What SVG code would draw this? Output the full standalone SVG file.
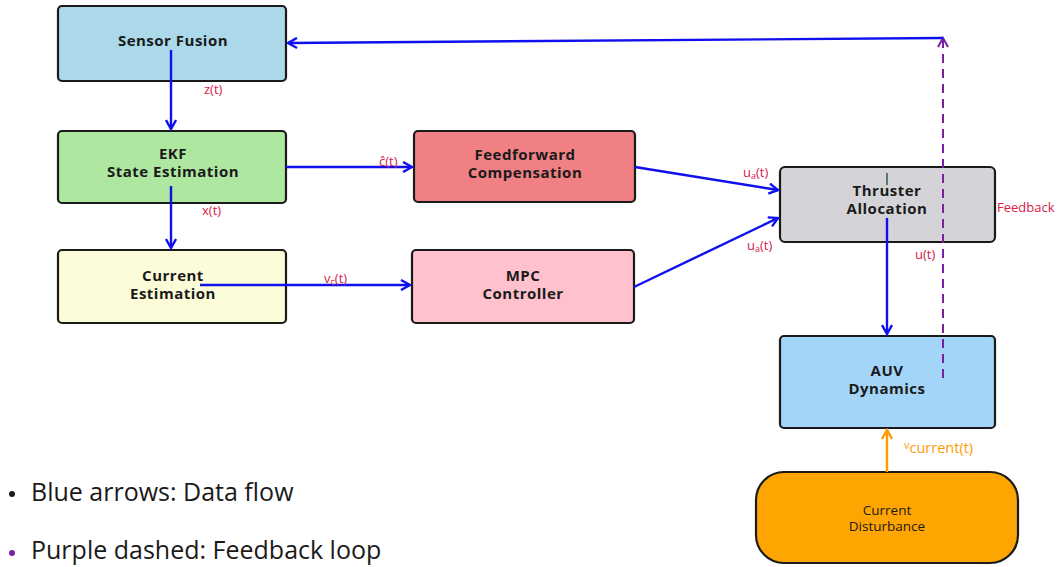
<svg xmlns="http://www.w3.org/2000/svg" width="1058" height="567" viewBox="0 0 1058 567">
<style>
.box{stroke:#1a1a1a;stroke-width:2.2}
.t{font-family:"Open Sans","Liberation Sans",sans-serif;font-weight:bold;font-size:15px;letter-spacing:0.5px;fill:#1a1a1a;text-anchor:middle}
.tn{font-family:"Open Sans","Liberation Sans",sans-serif;font-size:13.5px;fill:#1a1a1a;text-anchor:middle}
.lbl{font-family:"Open Sans","Liberation Sans",sans-serif;font-size:13px;fill:#d6204a}
.blue{stroke:#1010ee;stroke-width:2.4;fill:none}
.leg{font-family:"Open Sans","Liberation Sans",sans-serif;font-size:25px;fill:#1a1a1a}
</style>
<defs>
<marker id="ab" markerWidth="12" markerHeight="12" refX="10" refY="6" orient="auto" markerUnits="userSpaceOnUse"><path d="M1,1 L10,6 L1,11" fill="none" stroke="#1010ee" stroke-width="2.4"/></marker>
<marker id="ap" markerWidth="12" markerHeight="12" refX="10" refY="6" orient="auto" markerUnits="userSpaceOnUse"><path d="M1,1 L10,6 L1,11" fill="none" stroke="#7b1fa2" stroke-width="2"/></marker>
<marker id="ao" markerWidth="12" markerHeight="12" refX="10" refY="6" orient="auto" markerUnits="userSpaceOnUse"><path d="M1,1 L10,6 L1,11" fill="none" stroke="#ff9a00" stroke-width="2.4"/></marker>
</defs>
<rect width="1058" height="567" fill="#ffffff"/>
<g id="n-sensor"><rect class="box" x="58" y="6" width="228" height="75" rx="4" fill="#acd9ea"/><text class="t" x="173" y="46">Sensor Fusion</text></g>
<g id="n-ekf"><rect class="box" x="58" y="131" width="228" height="72" rx="4" fill="#aee7a0"/><text class="t" x="173" y="159">EKF</text><text class="t" x="173" y="177">State Estimation</text></g>
<g id="n-curest"><rect class="box" x="58" y="250" width="228" height="73" rx="4" fill="#fcfcd9"/><text class="t" x="173" y="281">Current</text><text class="t" x="173" y="299">Estimation</text></g>
<g id="n-ff"><rect class="box" x="414" y="131" width="221" height="71" rx="4" fill="#f08084"/><text class="t" x="525" y="160">Feedforward</text><text class="t" x="525" y="178">Compensation</text></g>
<g id="n-mpc"><rect class="box" x="412" y="250" width="222" height="73" rx="4" fill="#ffc1cb"/><text class="t" x="523" y="281">MPC</text><text class="t" x="523" y="299">Controller</text></g>
<g id="n-thr"><rect class="box" x="780" y="167" width="215" height="75" rx="5" fill="#d4d4d8"/><text class="t" x="887" y="196">Thruster</text><text class="t" x="887" y="214">Allocation</text></g>
<g id="n-auv"><rect class="box" x="780" y="336" width="215" height="92" rx="4" fill="#a3d5f8"/><text class="t" x="887" y="376">AUV</text><text class="t" x="887" y="394">Dynamics</text></g>
<g id="n-dist"><rect class="box" x="756" y="472" width="262" height="91" rx="28" fill="#ffa502"/><text class="tn" x="887" y="515">Current</text><text class="tn" x="887" y="531">Disturbance</text></g>
<g id="connectors">
<line class="blue" x1="171" y1="50" x2="171" y2="129" marker-end="url(#ab)"/>
<line class="blue" x1="171" y1="186" x2="171" y2="248" marker-end="url(#ab)"/>
<line class="blue" x1="286" y1="167" x2="412" y2="167" marker-end="url(#ab)"/>
<line class="blue" x1="200" y1="285" x2="410" y2="285" marker-end="url(#ab)"/>
<line class="blue" x1="635" y1="167" x2="778" y2="190" marker-end="url(#ab)"/>
<line class="blue" x1="634" y1="287" x2="778" y2="218" marker-end="url(#ab)"/>
<line x1="887" y1="173" x2="887" y2="185" stroke="#5a7a6a" stroke-width="2"/>
<line class="blue" x1="887" y1="218" x2="887" y2="334" marker-end="url(#ab)"/>
<line x1="943" y1="378" x2="943" y2="38" stroke="#7b1fa2" stroke-width="2" stroke-dasharray="9,6" marker-end="url(#ap)"/>
<line class="blue" x1="943" y1="38" x2="288" y2="43" marker-end="url(#ab)"/>
<line x1="887" y1="472" x2="887" y2="430" stroke="#ff9a00" stroke-width="2.4" marker-end="url(#ao)"/>
<text class="lbl" x="204" y="94">z(t)</text>
<text class="lbl" x="202" y="215">x(t)</text>
<text class="lbl" x="379" y="166">ĉ(t)</text>
<text class="lbl" x="324" y="283">v<tspan font-size="9" dy="2">c</tspan><tspan dy="-2">(t)</tspan></text>
<text class="lbl" x="743" y="177">u<tspan font-size="9" dy="2">a</tspan><tspan dy="-2">(t)</tspan></text>
<text class="lbl" x="747" y="250">u<tspan font-size="9" dy="2">a</tspan><tspan dy="-2">(t)</tspan></text>
<text class="lbl" x="915" y="259">u(t)</text>
<text class="lbl" x="997" y="212">Feedback</text>
<text x="904" y="453" font-family="Open Sans, Liberation Sans, sans-serif" font-size="14.5" fill="#ff9a00"><tspan font-size="11" dy="-4">v</tspan><tspan dy="4">current(t)</tspan></text>
</g>
<g id="legend">
<circle cx="12" cy="494" r="3" fill="#1a1a1a"/>
<text class="leg" x="31" y="501">Blue arrows: Data flow</text>
<circle cx="12" cy="553" r="3" fill="#7b1fa2"/>
<text class="leg" x="31" y="559">Purple dashed: Feedback loop</text>
</g>
</svg>
